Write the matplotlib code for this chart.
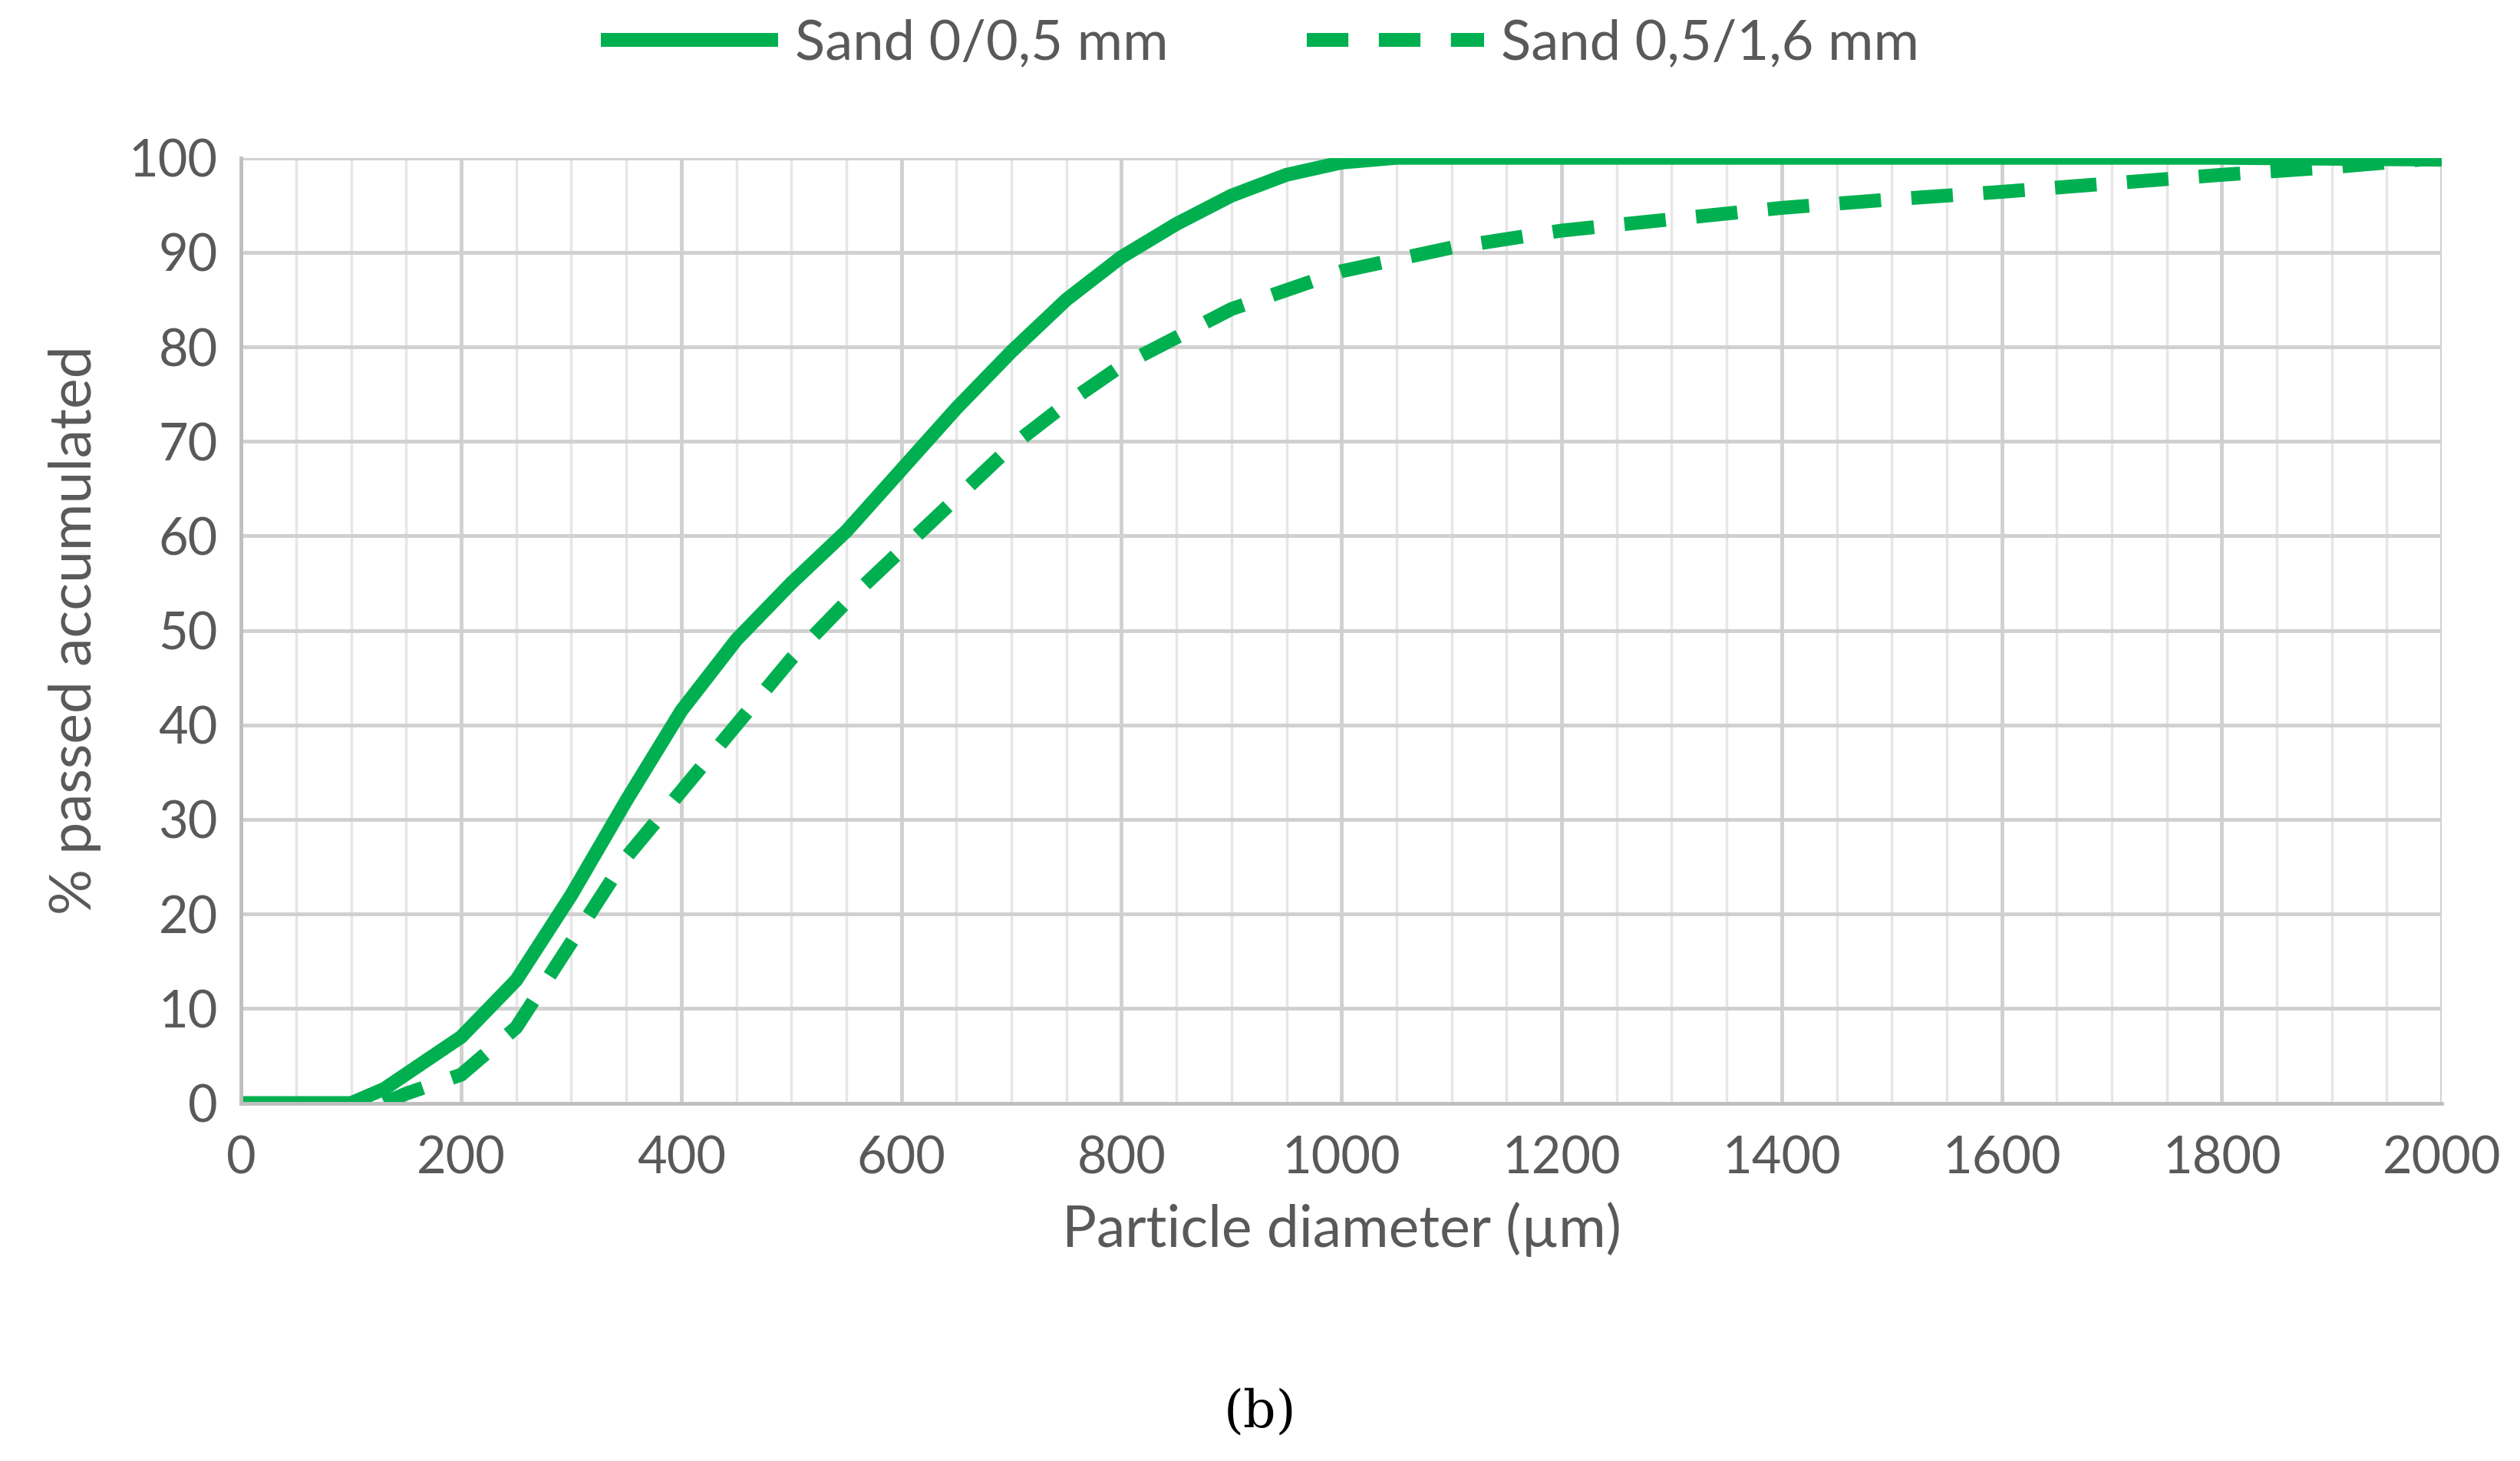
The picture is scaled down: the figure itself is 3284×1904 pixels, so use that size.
import numpy as np
import matplotlib.pyplot as plt
from matplotlib.ticker import MultipleLocator

# solid curve: Sand 0/0,5 mm
d_fine = [0, 70, 100, 130, 200, 250, 300, 350, 400, 450, 500, 550, 600, 650, 700,
          750, 800, 850, 900, 950, 1000, 1050, 1800, 2000]
p_fine = [0, 0, 0, 1.5, 7, 13, 22, 32, 41.5, 49, 55, 60.5, 67, 73.5, 79.5,
          85, 89.5, 93, 96, 98.2, 99.5, 100, 100, 99.8]

# dashed curve: Sand 0,5/1,6 mm
d_coarse = [130, 150, 200, 250, 300, 350, 400, 450, 500, 550, 600, 650, 700, 750, 800,
            850, 900, 1000, 1100, 1200, 1300, 1400, 1500, 1600, 1700, 1800, 1900, 2000]
p_coarse = [0, 1, 3, 8, 17, 26, 33, 40, 47, 53, 58.5, 64, 69.5, 74, 78,
            81, 84, 88, 90.5, 92.3, 93.5, 94.7, 95.6, 96.4, 97.3, 98.2, 99, 100]

green = '#00B050'
grey = '#595959'
plt.rcParams['font.family'] = ['Lato', 'DejaVu Sans']

fig = plt.figure(figsize=(32.84, 19.04), dpi=100)
ax = fig.add_axes([0.0957, 0.245, 0.8733, 0.647])

ax.plot(d_fine, p_fine, color=green, linewidth=13, label='Sand 0/0,5 mm',
        solid_capstyle='butt', solid_joinstyle='round')
ax.plot(d_coarse, p_coarse, color=green, linewidth=13, linestyle=(0, (3, 2.2)),
        label='Sand 0,5/1,6 mm', dash_joinstyle='round')

ax.set_xlim(0, 2000)
ax.set_ylim(0, 100)
ax.xaxis.set_major_locator(MultipleLocator(200))
ax.xaxis.set_minor_locator(MultipleLocator(50))
ax.yaxis.set_major_locator(MultipleLocator(10))
ax.grid(which='major', color='#D0D0D0', linewidth=3.5)
ax.grid(which='minor', axis='x', color='#E6E6E6', linewidth=2.5)
ax.set_axisbelow(True)
for s in ['top', 'right']:
    ax.spines[s].set_visible(False)
for s in ['left', 'bottom']:
    ax.spines[s].set_color('#BFBFBF')
    ax.spines[s].set_linewidth(3.5)
ax.tick_params(which='both', length=0, labelsize=48, labelcolor=grey)
ax.tick_params(axis='x', pad=30)
ax.tick_params(axis='y', pad=22)
ax.set_xlabel('Particle diameter (µm)', fontsize=54, color=grey, labelpad=18)
ax.set_ylabel('% passed accumulated', fontsize=54, color=grey, labelpad=26)

fig.legend(loc='center', bbox_to_anchor=(0.5, 0.97), ncol=2, frameon=False,
           fontsize=52, labelcolor=grey, handlelength=3.2, columnspacing=2.5, handletextpad=0.3)
fig.text(0.5, 0.033, '(b)', ha='center', va='center', fontsize=48, family='DejaVu Serif')

fig.savefig('out.png', dpi=100, facecolor='white')
